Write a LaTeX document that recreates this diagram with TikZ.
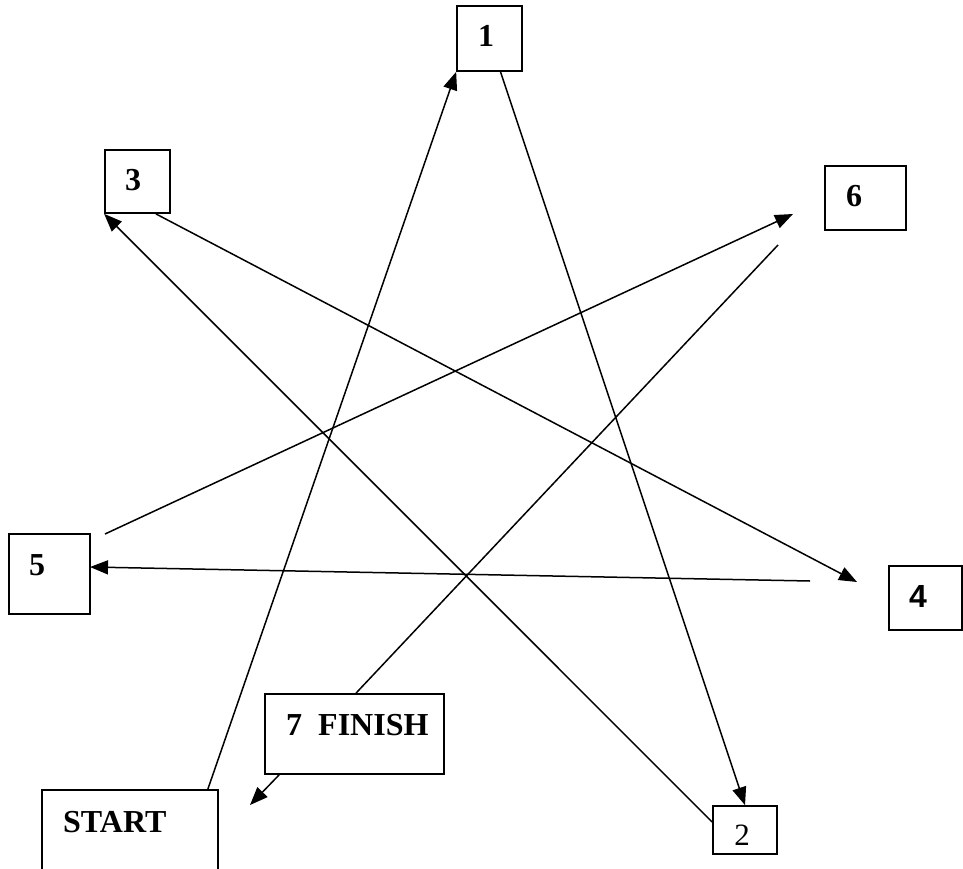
\documentclass[tikz,border=0pt]{standalone}
\usepackage{fontspec}
\setmainfont{Liberation Serif}
\newfontfamily\arialfont{Liberation Sans}
\usetikzlibrary{arrows.meta,calc}
\begin{document}
\begin{tikzpicture}[x=1pt,y=1pt,
  boxnode/.style={draw=black,line width=1.7pt,inner sep=0pt,fill=none},
  lbl/.style={inner sep=0pt,font=\fontsize{32}{38}\selectfont\bfseries},
  conn/.style={line width=1.5pt,draw=black},
  arr/.style={conn,-{Triangle[length=18pt,width=14pt]}}]
\clip (0,0) rectangle (963,-869);
\fill[white] (0,0) rectangle (963,-869);
% boxes
\node[boxnode,minimum width=65,minimum height=65] (b1) at (489.5,-38.5) {};
\node[boxnode,minimum width=65,minimum height=63] (b3) at (137.5,-181.5) {};
\node[boxnode,minimum width=81,minimum height=64] (b6) at (865.5,-198) {};
\node[boxnode,minimum width=81,minimum height=80] (b5) at (49.5,-574) {};
\node[boxnode,minimum width=73,minimum height=64] (b4) at (925.5,-598) {};
\node[boxnode,minimum width=176,minimum height=110] (bS) at (130,-845) {};
\node[boxnode,minimum width=64,minimum height=48] (b2) at (745,-830) {};
\node[boxnode,minimum width=179,minimum height=80] (b7) at (354.5,-734) {};
% labels
\node[lbl,anchor=base] (t1) at (486,-47) {1};
\node[lbl,anchor=base] (t3) at (133,-190) {3};
\node[lbl,anchor=base] (t6) at (854,-207) {6};
\node[lbl,anchor=base] (t5) at (37,-575) {5};
\node[inner sep=0pt,anchor=base,font=\fontsize{32}{38}\selectfont\arialfont\bfseries] (t4) at (918,-607) {4};
\node[lbl,anchor=base west] (tS) at (63,-832) {START};
\node[lbl,anchor=base west] (t7) at (286,-735) {7\ \ FINISH};
\node[inner sep=0pt,anchor=base,font=\fontsize{31}{37}\selectfont] (t2) at (742,-845) {2};
% free ends
\coordinate (c4s) at (810,-581);
\coordinate (c5e) at (90,-567);
\coordinate (c4e) at (857,-582);
\coordinate (c5s) at (105,-534);
\coordinate (c6e) at (793,-214);
\coordinate (c6s) at (778,-245);
\coordinate (cSe) at (250,-805);
% connectors
\draw[arr] ($(bS.north east)+(-11,0)$) -- (b1.south west);
\draw[arr] ($(b1.south)+(11,0)$) -- (b2.north);
\draw[arr] ($(b2.west)+(0,8)$) -- (b3.south west);
\draw[arr] ($(b3.south east)+(-15,0)$) -- (c4e);
\draw[arr] (c4s) -- (c5e);
\draw[arr] (c5s) -- (c6e);
\draw[conn] (c6s) -- ($(b7.north)+(1.5,0)$);
\draw[arr] ($(b7.south west)+(15,0)$) -- (cSe);
\end{tikzpicture}
\end{document}
